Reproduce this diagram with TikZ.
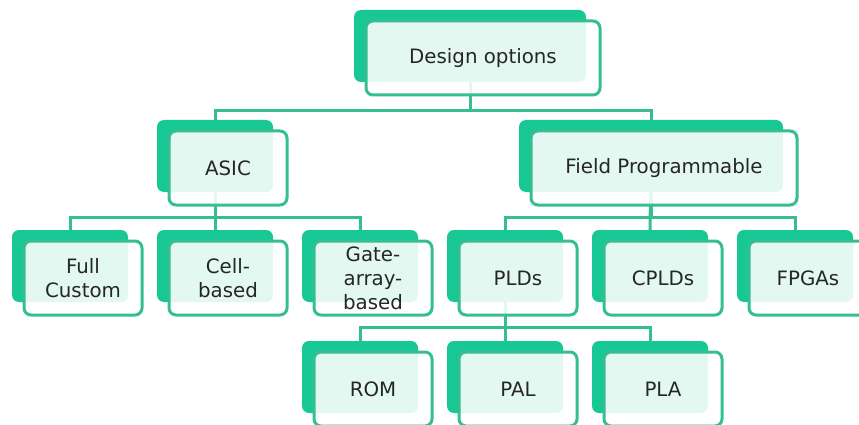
\documentclass[tikz,border=0pt]{standalone}
\usepackage{fontspec}
\setsansfont{DejaVu Sans}
\definecolor{optgreen}{RGB}{24,200,148}
\definecolor{optline}{RGB}{52,190,145}
\tikzset{
  backbox/.style = {rectangle, rounded corners=7pt, fill=optgreen,
    minimum width=116pt, minimum height=72pt, inner sep=0pt},
  frontbox/.style = {rectangle, rounded corners=7pt, draw=optline, line width=3pt,
    fill=white, fill opacity=0.88, text opacity=1, text=black!85,
    minimum width=118pt, minimum height=74pt, inner sep=0pt,
    align=center, font=\sffamily\fontsize{19.8}{24}\selectfont},
  link/.style = {draw=optline, line width=3pt}
}

\begin{document}
\begin{tikzpicture}[x=1pt,y=-1pt]
  \useasboundingbox (0,0) rectangle (859,425);
  \clip (0,0) rectangle (859,425);
  % back boxes
  \node [backbox, minimum width=232pt] (designB) at (470,46) {};
  \node [backbox] (asicB) at (215,156) {};
  \node [backbox, minimum width=264pt] (fieldB) at (651,156) {};
  \node [backbox] (fullB) at (70,266) {};
  \node [backbox] (cellB) at (215,266) {};
  \node [backbox] (gateB) at (360,266) {};
  \node [backbox] (pldB) at (505,266) {};
  \node [backbox] (cpldB) at (650,266) {};
  \node [backbox] (fpgaB) at (795,266) {};
  \node [backbox] (romB) at (360,377) {};
  \node [backbox] (palB) at (505,377) {};
  \node [backbox] (plaB) at (650,377) {};
  % connectors
  \draw [link] (designB.center) |- ++(0,65) -| (asicB.north);
  \draw [link] (designB.center) |- ++(0,65) -| (fieldB.north);
  \draw [link] (asicB.center) |- ++(0,61) -| (fullB.north);
  \draw [link] (asicB.center) -- (cellB.north);
  \draw [link] (asicB.center) |- ++(0,61) -| (gateB.north);
  \draw [link] (fieldB.center) |- ++(0,61) -| (pldB.north);
  \draw [link] (fieldB.center) -- (cpldB.north);
  \draw [link] (fieldB.center) |- ++(0,61) -| (fpgaB.north);
  \draw [link] (pldB.center) |- ++(0,61) -| (romB.north);
  \draw [link] (pldB.center) -- (palB.north);
  \draw [link] (pldB.center) |- ++(0,61) -| (plaB.north);
  % front boxes
  \node [frontbox, minimum width=234pt] (design) at ([shift={(13,12)}]designB) {Design options};
  \node [frontbox] (asic) at ([shift={(13,12)}]asicB) {ASIC};
  \node [frontbox, minimum width=266pt] (field) at ([shift={(13,12)}]fieldB) {Field Programmable};
  \node [frontbox] (full) at ([shift={(13,12)}]fullB) {Full\\Custom};
  \node [frontbox] (cell) at ([shift={(13,12)}]cellB) {Cell-\\based};
  \node [frontbox] (gate) at ([shift={(13,12)}]gateB) {Gate-\\array-\\based};
  \node [frontbox] (pld) at ([shift={(13,12)}]pldB) {PLDs};
  \node [frontbox] (cpld) at ([shift={(13,12)}]cpldB) {CPLDs};
  \node [frontbox] (fpga) at ([shift={(13,12)}]fpgaB) {FPGAs};
  \node [frontbox] (rom) at ([shift={(13,12)}]romB) {ROM};
  \node [frontbox] (pal) at ([shift={(13,12)}]palB) {PAL};
  \node [frontbox] (pla) at ([shift={(13,12)}]plaB) {PLA};
\end{tikzpicture}
\end{document}
